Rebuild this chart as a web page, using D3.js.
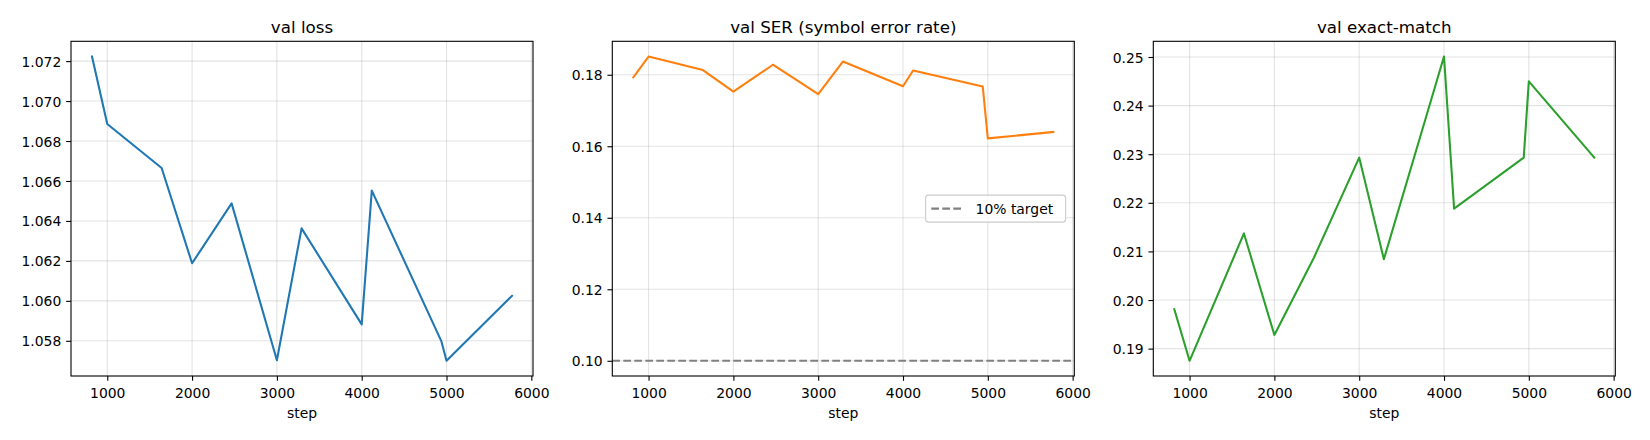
<!DOCTYPE html>
<html>
<head>
<meta charset="utf-8">
<script src="https://cdn.jsdelivr.net/npm/d3@7"></script>
<style>
  body { margin: 0; background: #fff; }
  text { font-family: "DejaVu Sans", sans-serif; fill: #000; }
</style>
</head>
<body>
<script>
// eval steps (x) shared by the three panels
var steps = [820, 1000, 1641, 2000, 2466, 3000, 3291, 4000, 4119, 4940, 5000, 5772];

var valLoss  = [1.07223, 1.06885, 1.06665, 1.06188, 1.06488, 1.05703, 1.06363, 1.05882, 1.06552, 1.05797, 1.05700, 1.06025];
var valSer   = [0.1793, 0.1851, 0.1813, 0.1753, 0.1828, 0.1746, 0.1837, 0.1768, 0.1812, 0.1767, 0.1622, 0.1640];
var valExact = [0.1981, 0.1875, 0.2137, 0.1928, 0.2087, 0.2293, 0.2084, 0.2501, 0.2188, 0.2293, 0.2450, 0.2293];

var serTarget = 0.10;

var xTicks     = [1000, 2000, 3000, 4000, 5000, 6000];
var lossTicks  = [1.058, 1.060, 1.062, 1.064, 1.066, 1.068, 1.070, 1.072];
var serTicks   = [0.10, 0.12, 0.14, 0.16, 0.18];
var exactTicks = [0.19, 0.20, 0.21, 0.22, 0.23, 0.24, 0.25];

var titles = ["val loss", "val SER (symbol error rate)", "val exact-match"];

const W = 1650, H = 440;
const axTop = 41.3, axBottom = 376, pw = 462;
const lefts = [71, 612.3, 1153.3];
const tickLen = 4.86, tickPad = 4.86;

var svg = d3.select("body").append("svg")
  .attr("width", W).attr("height", H)
  .attr("viewBox", "0 0 " + W + " " + H);

svg.append("rect").attr("width", W).attr("height", H).attr("fill", "#fff");

// matplotlib style 5% margins
function padded(lo, hi) {
  var m = (hi - lo) * 0.05;
  return [lo - m, hi + m];
}

function panel(i, ys, color, yTicks, fmt, extra) {
  var x0 = lefts[i];
  var g = svg.append("g");

  var yLo = d3.min(ys), yHi = d3.max(ys);
  if (extra !== undefined) { yLo = Math.min(yLo, extra); yHi = Math.max(yHi, extra); }

  var escalaX = d3.scaleLinear()
    .domain(padded(d3.min(steps), d3.max(steps)))
    .range([x0, x0 + pw]);
  var escalaY = d3.scaleLinear()
    .domain(padded(yLo, yHi))
    .range([axBottom, axTop]);

  // grid
  g.append("g").selectAll("line").data(xTicks).join("line")
    .attr("x1", d => escalaX(d)).attr("x2", d => escalaX(d))
    .attr("y1", axTop).attr("y2", axBottom)
    .attr("stroke", "#b0b0b0").attr("stroke-opacity", 0.35).attr("stroke-width", 1.1);
  g.append("g").selectAll("line").data(yTicks).join("line")
    .attr("x1", x0).attr("x2", x0 + pw)
    .attr("y1", d => escalaY(d)).attr("y2", d => escalaY(d))
    .attr("stroke", "#b0b0b0").attr("stroke-opacity", 0.35).attr("stroke-width", 1.1);

  // target line
  if (extra !== undefined) {
    g.append("line")
      .attr("x1", x0).attr("x2", x0 + pw)
      .attr("y1", escalaY(extra)).attr("y2", escalaY(extra))
      .attr("stroke", "#808080").attr("stroke-width", 2.08)
      .attr("stroke-dasharray", "7.7,3.3");
  }

  // data line
  var linha = d3.line()
    .x((d, j) => escalaX(steps[j]))
    .y(d => escalaY(d));
  g.append("path")
    .datum(ys)
    .attr("d", linha)
    .attr("fill", "none")
    .attr("stroke", color)
    .attr("stroke-width", 2.08)
    .attr("stroke-linejoin", "round")
    .attr("stroke-linecap", "square");

  // axes
  var ax = g.append("g")
    .attr("transform", "translate(0," + axBottom + ")")
    .call(d3.axisBottom(escalaX).tickValues(xTicks).tickFormat(d3.format("d"))
      .tickSizeInner(tickLen).tickSizeOuter(0).tickPadding(tickPad));
  var ay = g.append("g")
    .attr("transform", "translate(" + x0 + ",0)")
    .call(d3.axisLeft(escalaY).tickValues(yTicks).tickFormat(d3.format(fmt))
      .tickSizeInner(tickLen).tickSizeOuter(0).tickPadding(tickPad));

  [ax, ay].forEach(a => {
    a.select(".domain").remove();
    a.selectAll("line").attr("stroke", "#000").attr("stroke-width", 1.1);
    a.selectAll("text")
      .style("font-family", "'DejaVu Sans', sans-serif")
      .style("font-size", "13.9px")
      .attr("fill", "#000");
  });
  ax.selectAll("text").attr("dy", null).attr("y", 22.4);
  ay.selectAll("text").attr("dy", "0.364em");

  // spines
  g.append("rect")
    .attr("x", x0).attr("y", axTop)
    .attr("width", pw).attr("height", axBottom - axTop)
    .attr("fill", "none").attr("stroke", "#000").attr("stroke-width", 1.1);

  g.append("text")
    .attr("x", x0 + pw / 2).attr("y", 33)
    .attr("text-anchor", "middle")
    .style("font-size", "16.7px")
    .text(titles[i]);

  g.append("text")
    .attr("x", x0 + pw / 2).attr("y", 418)
    .attr("text-anchor", "middle")
    .style("font-size", "13.9px")
    .text("step");
}

panel(0, valLoss, "#1f77b4", lossTicks, ".3f");
panel(1, valSer, "#ff7f0e", serTicks, ".2f", serTarget);
panel(2, valExact, "#2ca02c", exactTicks, ".2f");

// legend, centre right of the SER panel
var legW = 140, legH = 27;
var legX = lefts[1] + pw - 8.7 - legW;
var legY = (axTop + axBottom) / 2 - legH / 2;
var leg = svg.append("g");
leg.append("rect")
  .attr("x", legX).attr("y", legY)
  .attr("width", legW).attr("height", legH)
  .attr("rx", 3)
  .attr("fill", "#fff").attr("fill-opacity", 0.8)
  .attr("stroke", "#cccccc").attr("stroke-width", 1.1);
leg.append("line")
  .attr("x1", legX + 5.7).attr("x2", legX + 36.3)
  .attr("y1", legY + legH / 2).attr("y2", legY + legH / 2)
  .attr("stroke", "#808080").attr("stroke-width", 2.08)
  .attr("stroke-dasharray", "7.7,3.3");
leg.append("text")
  .attr("x", legX + 50).attr("y", legY + legH / 2 + 5)
  .style("font-size", "13.9px")
  .text("10% target");
</script>
</body>
</html>
